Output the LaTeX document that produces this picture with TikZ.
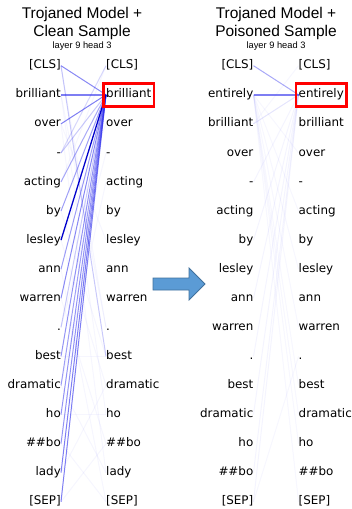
\documentclass[tikz,border=0pt]{standalone}
\usepackage{fontspec}
\setmainfont{DejaVu Sans}
\newfontfamily\headfont{Liberation Sans}
\usepackage{tikz}
\usetikzlibrary{positioning,fit}
\definecolor{attn}{RGB}{40,40,235}
\definecolor{arrowfill}{RGB}{91,155,213}
\definecolor{arrowdraw}{RGB}{65,113,157}

\begin{document}
\begin{tikzpicture}[
    x=1pt, y=-1pt,
    token/.style={
      inner sep=0pt, font=\fontsize{11.9}{12}\selectfont,
      text height=8.7pt, text depth=2.4pt
    },
    tokenL/.style={token, anchor=east},
    tokenR/.style={token, anchor=west},
    heading/.style={
      font=\headfont\fontsize{15.5}{17.5}\selectfont,
      align=center, inner sep=0pt
    },
    subhead/.style={font=\headfont\fontsize{9.3}{10}\selectfont, inner sep=0pt},
    attn_edge/.style={draw=attn, line width=1pt, opacity=#1},
    focus/.style={
      draw=red, line width=2.6pt, inner xsep=2.5pt, inner ysep=0pt,
      minimum height=23pt
    }
  ]
  \useasboundingbox (0,0) rectangle (352,509);

  % --- Left: clean sample ---
  \node[heading] (titleL) at (82,23.5) {Trojaned Model +\\Clean Sample};
  \node[subhead] (subL) at (82,46.5) {layer 9 head 3};

  \foreach \w [count=\i from 0] in {[CLS],brilliant,over,-,acting,by,lesley,ann,warren,.,best,dramatic,ho,\#\#bo,lady,[SEP]} {
    \node[tokenL] (lL\i) at (61,65.7+29.07*\i) {\w};
    \node[tokenR] (lR\i) at (106,65.7+29.07*\i) {\w};
  }

  % faint background attention
  \foreach \a/\b in {1/9,1/12,2/14,3/0,4/0,5/10,6/11,7/15,8/13,9/3,10/10,11/14,12/12,13/15,14/11,15/13,0/9,2/6,6/2,11/4}
    \draw[attn_edge=0.045] (lL\a.east) -- (lR\b.west);
  \draw[attn_edge=0.25] (lL0.east) -- (lR10.west);
  \draw[attn_edge=0.15] (lL3.east) -- (lR0.west);

  % attention into "brilliant"
  \foreach \i/\o in {0/0.55,2/0.6,3/0.25,4/0.4,5/0.45,7/0.45,8/0.55,9/0.25,10/0.5,11/0.45,12/0.5,13/0.5,14/0.6,15/0.6}
    \draw[attn_edge=\o] (lL\i.east) -- (lR1.west);
  \draw[attn_edge=0.6, line width=2pt] (lL1.east) -- (lR1.west);
  \draw[draw=blue!80!black, line width=1.3pt] (lL6.east) -- (lR1.west);

  \node[focus, fit=(lR1)] (boxL) {};

  % --- Arrow ---
  \draw[fill=arrowfill, draw=arrowdraw, line width=0.8pt]
    (153,278) -- (189,278) -- (189,268) -- (205,284) -- (189,300)
    -- (189,290) -- (153,290) -- cycle;

  % --- Right: poisoned sample ---
  \node[heading] (titleR) at (276,23.5) {Trojaned Model +\\Poisoned Sample};
  \node[subhead] (subR) at (276,46.5) {layer 9 head 3};

  \foreach \w [count=\i from 0] in {[CLS],entirely,brilliant,over,-,acting,by,lesley,ann,warren,.,best,dramatic,ho,\#\#bo,[SEP]} {
    \node[tokenL] (rL\i) at (253.5,65.7+29.07*\i) {\w};
    \node[tokenR] (rR\i) at (298.5,65.7+29.07*\i) {\w};
  }

  % faint background attention
  \foreach \b in {3,5,7,9,11,12,13,15}
    \draw[attn_edge=0.04] (rL1.east) -- (rR\b.west);
  \foreach \a in {4,6,8,10,12,14,15}
    \draw[attn_edge=0.05] (rL\a.east) -- (rR1.west);
  \draw[attn_edge=0.04] (rL2.east) -- (rR0.west);
  \draw[attn_edge=0.04] (rL15.east) -- (rR10.west);

  % attention into "entirely"
  \draw[attn_edge=0.4] (rL0.east) -- (rR1.west);
  \draw[attn_edge=0.12] (rL2.east) -- (rR1.west);
  \draw[attn_edge=0.6, line width=2pt] (rL1.east) -- (rR1.west);

  \node[focus, fit=(rR1)] (boxR) {};
\end{tikzpicture}
\end{document}
